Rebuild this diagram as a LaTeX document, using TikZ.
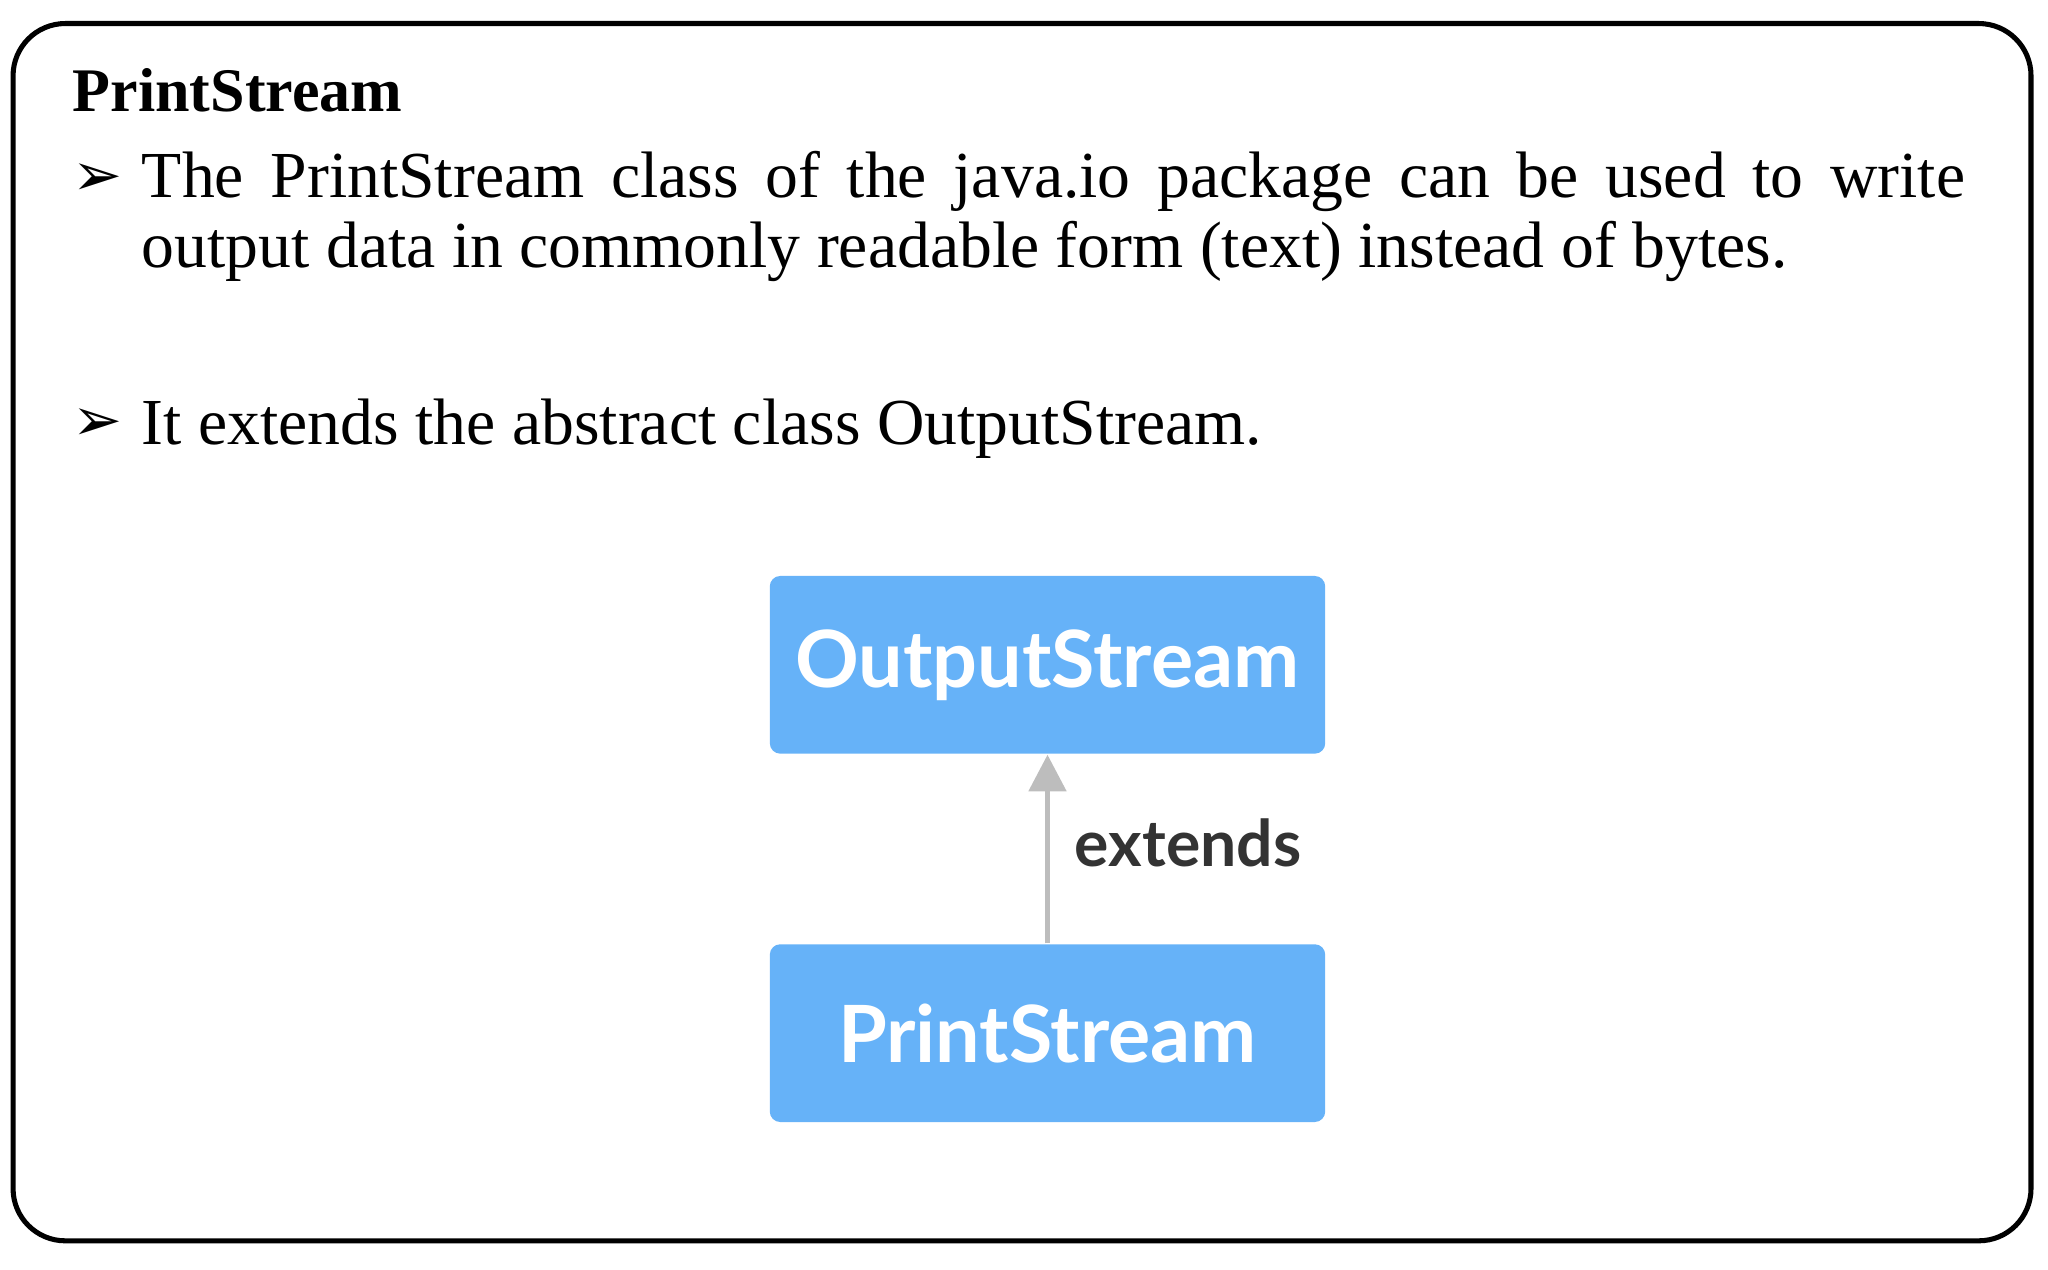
\documentclass[tikz,border=0pt]{standalone}
\usepackage{fontspec}
\usetikzlibrary{arrows.meta}
\setmainfont{Liberation Serif}
\newfontfamily\arrowfont{DejaVu Sans}
\newfontfamily\boxfont{Lato}
\definecolor{boxblue}{HTML}{66B2F8}
\definecolor{arrgray}{HTML}{BDBDBD}
\definecolor{lblgray}{HTML}{333333}
\tikzset{
  cls/.style={fill=boxblue,rounded corners=0.08cm,minimum width=4.25cm,minimum height=1.36cm,text=white,font=\boxfont\bfseries\fontsize{17.2}{20}\selectfont},
  txt/.style={anchor=base west,inner sep=0pt,font=\fontsize{14.3}{15.2}\selectfont},
}
\begin{document}
\begin{tikzpicture}[x=0.01cm,y=-0.01cm]
\useasboundingbox (0,0) rectangle (1568,972);
\draw[line width=1.1pt,rounded corners=0.4cm] (10,18) rectangle (1555,950);
\node[txt,font=\bfseries\fontsize{13.5}{15.2}\selectfont] (title) at (55,85) {PrintStream};
\node[txt,font=\arrowfont\bfseries\fontsize{13}{14}\selectfont] (b1) at (55,150) {➢};
\node[txt,anchor=north west,text width=13.95cm,align=justify] (p1) at (108,115) {The PrintStream class of the java.io package can be used to write\linebreak output data in commonly readable form (text) instead of bytes.};
\node[txt,font=\arrowfont\bfseries\fontsize{13}{14}\selectfont] (b2) at (55,337) {➢};
\node[txt] (p2) at (108,340) {It extends the abstract class OutputStream.};
\node[cls] (os) at (802,509) {OutputStream};
\node[cls] (ps) at (802,791) {PrintStream};
\draw[arrgray,line width=1.3pt,-{Triangle[width=8pt,length=8pt]}] (ps.north) -- (os.south) node[pos=0.53,right,xshift=2pt,text=lblgray,font=\boxfont\bfseries\fontsize{14}{16}\selectfont] (lbl) {extends};
\end{tikzpicture}
\end{document}
